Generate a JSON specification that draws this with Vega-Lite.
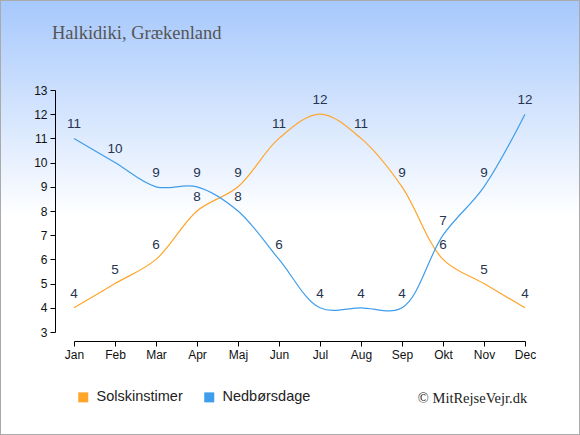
{
  "$schema": "https://vega.github.io/schema/vega-lite/v6.json",
  "width": 580,
  "height": 435,
  "autosize": "none",
  "padding": 0,
  "background": "white",
  "config": {
    "font": "Liberation Sans",
    "view": {
      "fill": {
        "gradient": "linear",
        "x1": 0, "y1": 0, "x2": 0, "y2": 1,
        "stops": [
          {"offset": 0, "color": "#A6C8FC"},
          {"offset": 0.5, "color": "#FFFFFF"},
          {"offset": 1, "color": "#FFFFFF"}
        ]
      },
      "stroke": "#AAAAAA",
      "strokeWidth": 2
    },
    "axis": {
      "labelFont": "Liberation Sans",
      "labelFontSize": 12,
      "labelColor": "#111",
      "domainColor": "#000",
      "tickColor": "#000",
      "grid": false
    }
  },
  "title": {
    "text": "Halkidiki, Grækenland",
    "anchor": "start",
    "frame": "group",
    "font": "Liberation Serif",
    "fontSize": 18.5,
    "fontWeight": "normal",
    "color": "#555555",
    "baseline": "alphabetic",
    "offset": 0,
    "dx": 52,
    "dy": 57
  },
  "data": {
    "values": [
      {"month": "Jan", "series": "Solskinstimer", "value": 4},
      {"month": "Feb", "series": "Solskinstimer", "value": 5},
      {"month": "Mar", "series": "Solskinstimer", "value": 6},
      {"month": "Apr", "series": "Solskinstimer", "value": 8},
      {"month": "Maj", "series": "Solskinstimer", "value": 9},
      {"month": "Jun", "series": "Solskinstimer", "value": 11},
      {"month": "Jul", "series": "Solskinstimer", "value": 12},
      {"month": "Aug", "series": "Solskinstimer", "value": 11},
      {"month": "Sep", "series": "Solskinstimer", "value": 9},
      {"month": "Okt", "series": "Solskinstimer", "value": 6},
      {"month": "Nov", "series": "Solskinstimer", "value": 5},
      {"month": "Dec", "series": "Solskinstimer", "value": 4},
      {"month": "Jan", "series": "Nedbørsdage", "value": 11},
      {"month": "Feb", "series": "Nedbørsdage", "value": 10},
      {"month": "Mar", "series": "Nedbørsdage", "value": 9},
      {"month": "Apr", "series": "Nedbørsdage", "value": 9},
      {"month": "Maj", "series": "Nedbørsdage", "value": 8},
      {"month": "Jun", "series": "Nedbørsdage", "value": 6},
      {"month": "Jul", "series": "Nedbørsdage", "value": 4},
      {"month": "Aug", "series": "Nedbørsdage", "value": 4},
      {"month": "Sep", "series": "Nedbørsdage", "value": 4},
      {"month": "Okt", "series": "Nedbørsdage", "value": 7},
      {"month": "Nov", "series": "Nedbørsdage", "value": 9},
      {"month": "Dec", "series": "Nedbørsdage", "value": 12}
    ]
  },
  "encoding": {
    "x": {
      "field": "month",
      "type": "ordinal",
      "sort": ["Jan", "Feb", "Mar", "Apr", "Maj", "Jun", "Jul", "Aug", "Sep", "Okt", "Nov", "Dec"],
      "scale": {"type": "point", "range": [74, 525], "padding": 0},
      "axis": {
        "orient": "bottom",
        "offset": -94,
        "labelAngle": 0,
        "labelPadding": 3,
        "tickSize": 5,
        "title": "© MitRejseVejr.dk",
        "titleFont": "Liberation Serif",
        "titleFontSize": 14.5,
        "titleFontWeight": "normal",
        "titleColor": "#222",
        "titleX": 472,
        "titleY": 57,
        "titleAlign": "center",
        "titleBaseline": "middle"
      }
    },
    "y": {
      "field": "value",
      "type": "quantitative",
      "scale": {"domain": [3, 13], "range": [332, 90], "nice": false, "zero": false},
      "axis": {
        "orient": "left",
        "offset": -55,
        "values": [3, 4, 5, 6, 7, 8, 9, 10, 11, 12, 13],
        "tickSize": 5,
        "labelPadding": 3,
        "title": null
      }
    }
  },
  "layer": [
    {
      "mark": {"type": "line", "interpolate": "catmull-rom", "strokeWidth": 1.2},
      "encoding": {
        "color": {
          "field": "series",
          "type": "nominal",
          "sort": ["Solskinstimer", "Nedbørsdage"],
          "scale": {"domain": ["Solskinstimer", "Nedbørsdage"], "range": ["#FFA52A", "#3F9DEB"]},
          "legend": {
            "orient": "none",
            "legendX": 76,
            "legendY": 390,
            "direction": "horizontal",
            "title": null,
            "symbolType": "square",
            "symbolSize": 100,
            "labelFont": "Liberation Sans",
            "labelFontSize": 14.5,
            "labelColor": "#222",
            "labelOffset": 6,
            "columnPadding": 19,
            "encode": {
              "symbols": {
                "update": {
                  "fill": {"scale": "color", "field": "value"},
                  "strokeWidth": {"value": 0}
                }
              }
            }
          }
        }
      }
    },
    {
      "mark": {"type": "text", "baseline": "middle", "dy": -14, "fontSize": 13.5, "color": "#263450"},
      "encoding": {
        "text": {"field": "value", "type": "quantitative"}
      }
    }
  ]
}
